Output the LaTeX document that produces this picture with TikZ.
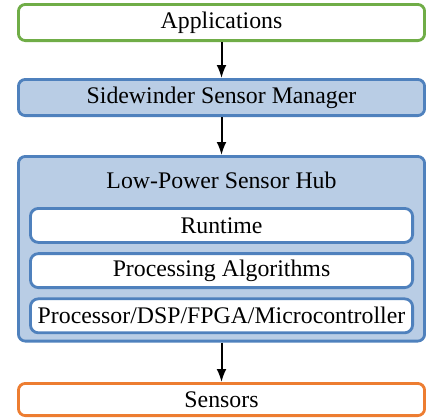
\documentclass[tikz,border=0pt]{standalone}
\usepackage{fontspec}
\setmainfont{Liberation Serif}
\usepackage{xcolor}
\usetikzlibrary{positioning, arrows.meta}

\definecolor{appgreen}{RGB}{112,173,71}
\definecolor{hubblue}{RGB}{79,129,189}
\definecolor{hubfill}{RGB}{185,205,229}
\definecolor{sensororange}{RGB}{237,125,49}

\begin{document}
\begin{tikzpicture}[font=\rmfamily\fontsize{11.9}{14}\selectfont,
    layer/.style={draw, line width=1.4pt, rounded corners=3.5pt, minimum width=203.1pt, minimum height=18.1pt, inner sep=0pt},
    part/.style={draw=hubblue, fill=white, line width=1.4pt, rounded corners=4pt, minimum width=191.1pt, minimum height=17pt, inner sep=0pt},
    flow/.style={-{Latex[length=6.5pt, width=5pt]}, line width=1pt}]
    \useasboundingbox (0,0) rectangle (213pt,-209pt);
    \node[layer, draw=appgreen, fill=white] (apps) at (110.75pt,-11.25pt) {Applications};
    \node[layer, draw=hubblue, fill=hubfill, below=18pt of apps] (manager) {Sidewinder Sensor Manager};
    \node[layer, draw=hubblue, fill=hubfill, minimum height=92.35pt, below=19pt of manager] (hub) {};
    \node[inner sep=0pt, below=8.3pt of hub.north] (hubtitle) {Low-Power Sensor Hub};
    \node[part, below=26pt of hub.north] (runtime) {Runtime};
    \node[part, below=4.2pt of runtime] (algos) {Processing Algorithms};
    \node[part, below=4.2pt of algos] (processor) {Processor/DSP/FPGA/Microcontroller};
    \node[layer, draw=sensororange, fill=white, minimum height=16.1pt, below=19.75pt of hub] (sensors) {Sensors};

    \draw[flow] (apps) -- (manager);
    \draw[flow] (manager) -- (hub);
    \draw[flow] (hub) -- (sensors);
\end{tikzpicture}
\end{document}
